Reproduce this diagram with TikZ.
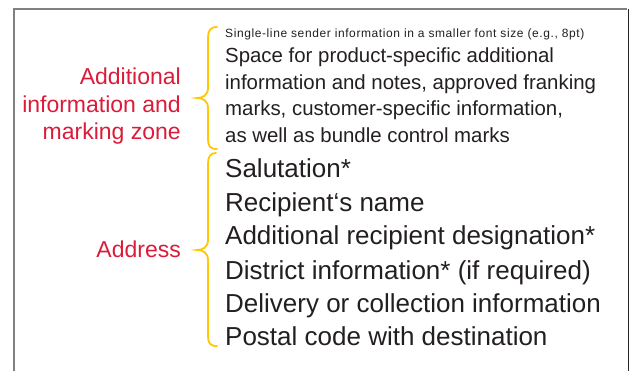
\documentclass[tikz,border=0pt]{standalone}
\usepackage{fontspec}
\setmainfont{Liberation Sans}
\usepackage{tikz}
\usetikzlibrary{calc}
\definecolor{zonered}{RGB}{218,28,58}
\definecolor{bracegold}{RGB}{255,200,0}
\definecolor{framegray}{RGB}{128,128,128}
\definecolor{textdark}{RGB}{35,31,32}
\tikzset{
  zonelabel/.style={anchor=base east,inner sep=0pt,text=zonered,font=\fontsize{23}{27}\selectfont},
  senderline/.style={anchor=base west,inner sep=0pt,text=textdark,font=\fontsize{12}{14}\selectfont\addfontfeatures{LetterSpace=5}},
  infoline/.style={anchor=base west,inner sep=0pt,text=textdark,font=\fontsize{20.4}{24}\selectfont},
  addrline/.style={anchor=base west,inner sep=0pt,text=textdark,font=\fontsize{26}{30}\selectfont},
  zonebrace/.style={draw=bracegold,line width=1.8pt,line cap=round}
}
\begin{document}
\begin{tikzpicture}[x=1pt,y=-1pt]
\useasboundingbox (0,0) rectangle (633,371);
\draw[framegray,line width=2pt] (14,371) -- (14,9) -- (627,9);
\draw[black!85,line width=1pt] (628,9) -- (628,371);

\node (z1) at (181,85) [zonelabel] {Additional};
\node (z2) at (181,112.5) [zonelabel] {information and};
\node (z3) at (181,140) [zonelabel] {marking zone};
\node (adr) at (181,258) [zonelabel] {Address};

\node (snd) at (225,37.5) [senderline] {Single-line sender information in a smaller font size (e.g., 8pt)};
\node (i1) at (225,63) [infoline] {Space for product-specific additional};
\node (i2) at (225,89.5) [infoline] {information and notes, approved franking};
\node (i3) at (225,116) [infoline] {marks, customer-specific information,};
\node (i4) at (225,143) [infoline] {as well as bundle control marks};

\node (a1) at (225,178) [addrline] {Salutation*};
\node (a2) at (225,211.5) [addrline] {Recipient‘s name};
\node (a3) at (225,245) [addrline] {Additional recipient designation*};
\node (a4) at (225,279.5) [addrline] {District information* (if required)};
\node (a5) at (225,312.5) [addrline] {Delivery or collection information};
\node (a6) at (225,345.5) [addrline] {Postal code with destination};

\draw[zonebrace] (217,27) .. controls (210,27) and (208,31) .. (208,38) -- (208,88)
  .. controls (208,95) and (203,98) .. (197,98) .. controls (203,98) and (208,101) .. (208,108)
  -- (208,139) .. controls (208,146) and (210,149) .. (217,149);
\draw[zonebrace] (216,153) .. controls (210,153) and (208,157) .. (208,164) -- (208,240)
  .. controls (208,247) and (203,250) .. (197,250) .. controls (203,250) and (208,253) .. (208,260)
  -- (208,336) .. controls (208,343) and (210,346) .. (217,346);

\end{tikzpicture}
\end{document}
